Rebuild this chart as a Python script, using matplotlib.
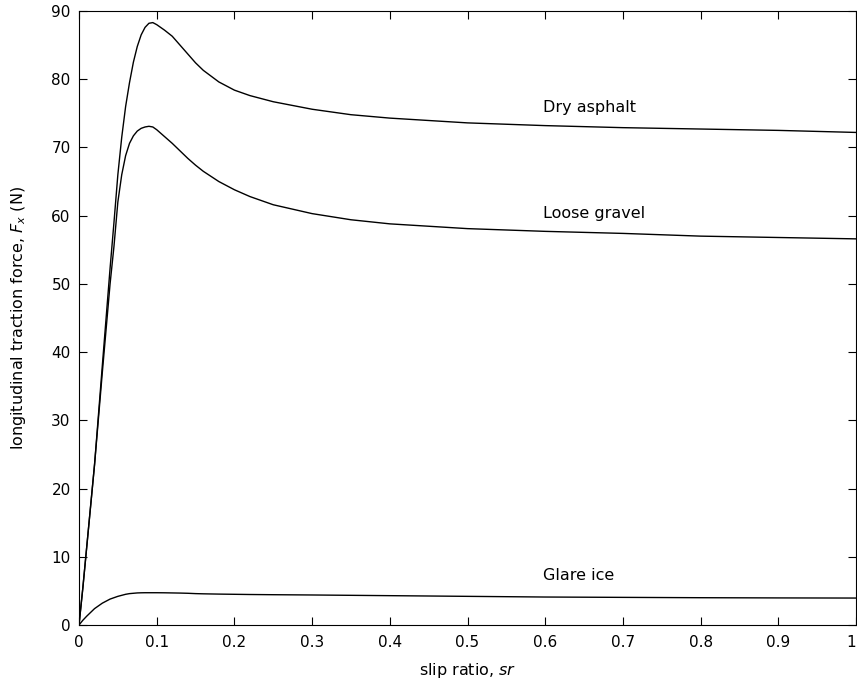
import numpy as np
import matplotlib
matplotlib.use("Agg")
import matplotlib.pyplot as plt

plt.rcParams['font.family'] = ['DejaVu Sans']
plt.rcParams['mathtext.fontset'] = 'dejavusans'

# slip ratio sample points
slip = [0, 0.005, 0.01, 0.02, 0.03, 0.04, 0.045, 0.05, 0.055, 0.06, 0.065,
        0.07, 0.075, 0.08, 0.085, 0.09, 0.095, 0.1, 0.11, 0.12, 0.13, 0.14,
        0.15, 0.16, 0.18, 0.2, 0.22, 0.25, 0.3, 0.35, 0.4, 0.5, 0.6, 0.7,
        0.8, 0.9, 1.0]

dry_asphalt = [0, 5.5, 11.5, 23.5, 38.0, 52.3, 59.0, 66.0, 71.5, 76.0, 79.5,
               82.5, 84.8, 86.5, 87.6, 88.2, 88.3, 88.0, 87.2, 86.3, 85.0, 83.7,
               82.4, 81.3, 79.6, 78.4, 77.6, 76.7, 75.6, 74.8, 74.3, 73.6, 73.2,
               72.9, 72.7, 72.5, 72.2]

loose_gravel = [0, 5.5, 11.5, 23.5, 37.0, 50.0, 55.5, 62.0, 66.0, 68.8, 70.6,
                71.7, 72.4, 72.8, 73.0, 73.1, 73.0, 72.6, 71.6, 70.6, 69.5, 68.4,
                67.4, 66.5, 65.0, 63.8, 62.8, 61.6, 60.3, 59.4, 58.8, 58.1, 57.7,
                57.4, 57.0, 56.8, 56.6]

glare_ice = [0, 0.7, 1.3, 2.4, 3.2, 3.8, 4.0, 4.2, 4.35, 4.5, 4.6,
             4.65, 4.7, 4.72, 4.73, 4.73, 4.73, 4.73, 4.72, 4.7, 4.68, 4.65,
             4.6, 4.57, 4.53, 4.5, 4.47, 4.44, 4.4, 4.35, 4.3, 4.2, 4.1,
             4.05, 4.0, 3.97, 3.95]

curve_names = ["Dry asphalt", "Loose gravel", "Glare ice"]
label_x = [0.597, 0.597, 0.597]
label_y = [75.2, 59.6, 6.6]

xtick_labels = ["0", "0.1", "0.2", "0.3", "0.4", "0.5", "0.6", "0.7", "0.8", "0.9", "1"]

fig = plt.figure(figsize=(8.57, 6.85), dpi=100)
ax = fig.add_axes([79/857, 60/685, 777/857, 614/685])

for series in [dry_asphalt, loose_gravel, glare_ice]:
    ax.plot(slip, series, color='black', linewidth=1.0)

for name, lx, ly in zip(curve_names, label_x, label_y):
    ax.text(lx, ly, name, fontsize=11.5, ha='left', va='baseline')

ax.set_xlim(0, 1)
ax.set_ylim(0, 90)
ax.set_xticks(np.arange(0, 1.01, 0.1))
ax.set_xticklabels(xtick_labels)
ax.set_yticks(np.arange(0, 91, 10))
ax.tick_params(direction='in', top=True, right=True, length=5.5, width=0.8,
               labelsize=11)
ax.tick_params(axis='x', pad=7)
ax.tick_params(axis='y', pad=6)
for sp in ax.spines.values():
    sp.set_linewidth(0.8)

# last label sits at the picture's right edge
ax.xaxis.get_major_ticks()[-1].label1.set_horizontalalignment('right')

ax.set_xlabel("slip ratio, $sr$", fontsize=11.5)
ax.set_ylabel("longitudinal traction force, $F_x$ (N)", fontsize=11.5)
ax.xaxis.set_label_coords(0.5, -0.058)
ax.yaxis.set_label_coords(-0.066, 0.5)

fig.savefig("out.png", dpi=100)
